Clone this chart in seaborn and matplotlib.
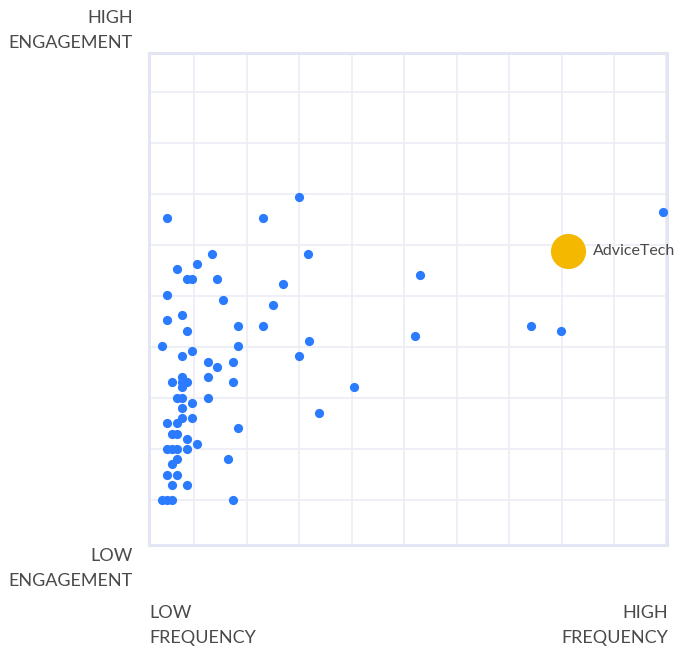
import matplotlib
matplotlib.use("Agg")
import matplotlib.pyplot as plt
import seaborn as sns
import pandas as pd

# Frequency (x) and engagement (y) of companies, in grid units
freq = [0.49, 2.31, 3.00, 3.17, 1.34, 1.06, 0.68, 0.87, 0.96, 1.44,
        2.70, 0.49, 1.55, 2.50, 0.77, 0.49, 0.87, 1.84, 2.31, 5.30,
        5.21, 7.42, 7.99, 9.93, 0.39, 1.84, 3.19, 0.77, 0.96, 3.00,
        1.27, 1.44, 1.74, 0.77, 0.58, 0.77, 0.87, 0.77, 1.27, 1.74,
        4.05, 0.68, 0.77, 1.27, 0.96, 0.77, 3.38, 0.77, 0.96, 0.68,
        0.49, 1.84, 0.58, 0.68, 0.87, 1.06, 0.49, 0.58, 0.68, 0.87,
        1.65, 0.68, 0.58, 0.49, 0.68, 0.58, 0.87, 0.39, 0.49, 0.58,
        1.74]
engage = [6.53, 6.53, 6.94, 5.82, 5.82, 5.63, 5.53, 5.33, 5.33, 5.33,
          5.24, 5.02, 4.92, 4.82, 4.63, 4.53, 4.31, 4.41, 4.41, 5.41,
          4.22, 4.41, 4.31, 6.65, 4.02, 4.02, 4.12, 3.82, 3.92, 3.82,
          3.71, 3.61, 3.71, 3.41, 3.31, 3.31, 3.31, 3.22, 3.41, 3.31,
          3.22, 3.00, 3.00, 3.00, 2.90, 2.80, 2.71, 2.61, 2.61, 2.51,
          2.51, 2.41, 2.29, 2.29, 2.20, 2.10, 2.00, 2.00, 2.00, 2.00,
          1.80, 1.80, 1.71, 1.49, 1.49, 1.29, 1.29, 1.00, 1.00, 1.00,
          1.00]

highlight_name = ["AdviceTech"]
highlight_freq = [8.12]
highlight_engage = [5.88]

df = pd.DataFrame({"freq": freq, "engage": engage})
hl = pd.DataFrame({"name": highlight_name, "freq": highlight_freq, "engage": highlight_engage})

W, H = 681, 649
fig = plt.figure(figsize=(W / 100, H / 100), dpi=100)
ax = fig.add_axes([149 / W, 1 - 545 / H, (667 - 149) / W, (545 - 53) / H])

sns.scatterplot(data=df, x="freq", y="engage", ax=ax, color="#2b7bff",
                s=44, linewidth=0, zorder=3)
sns.scatterplot(data=hl, x="freq", y="engage", ax=ax, color="#f5b800",
                s=640, linewidth=0, zorder=4)
for _, r in hl.iterrows():
    ax.annotate(r["name"], (r["freq"], r["engage"]), xytext=(18, 0),
                textcoords="offset points", va="center", ha="left",
                fontsize=11.5, color="#4a4a4a", family="Lato",
                annotation_clip=False)

ax.set_xlim(0.14, 10.01)
ax.set_ylim(0.12, 9.76)
ax.set_xticks(range(1, 11))
ax.set_yticks(range(1, 10))
ax.tick_params(length=0, labelbottom=False, labelleft=False)
ax.set_xlabel("")
ax.set_ylabel("")
ax.grid(True, color="#eceef6", linewidth=1.2, zorder=0)
ax.set_axisbelow(True)
for sp in ax.spines.values():
    sp.set_color("#e3e6f2")
    sp.set_linewidth(2.2)

tk = dict(fontsize=13, color="#4a4a4a", family="Lato", fontweight="normal", va="center")
def ftext(px, py, s, ha):
    fig.text(px / W, 1 - py / H, s, ha=ha, **tk)

ftext(133, 18, "HIGH", "right")
ftext(133, 43, "ENGAGEMENT", "right")
ftext(133, 556, "LOW", "right")
ftext(133, 581, "ENGAGEMENT", "right")
ftext(149, 613, "LOW", "left")
ftext(149, 638, "FREQUENCY", "left")
ftext(668, 613, "HIGH", "right")
ftext(668, 638, "FREQUENCY", "right")

fig.savefig("out.png", dpi=100)
